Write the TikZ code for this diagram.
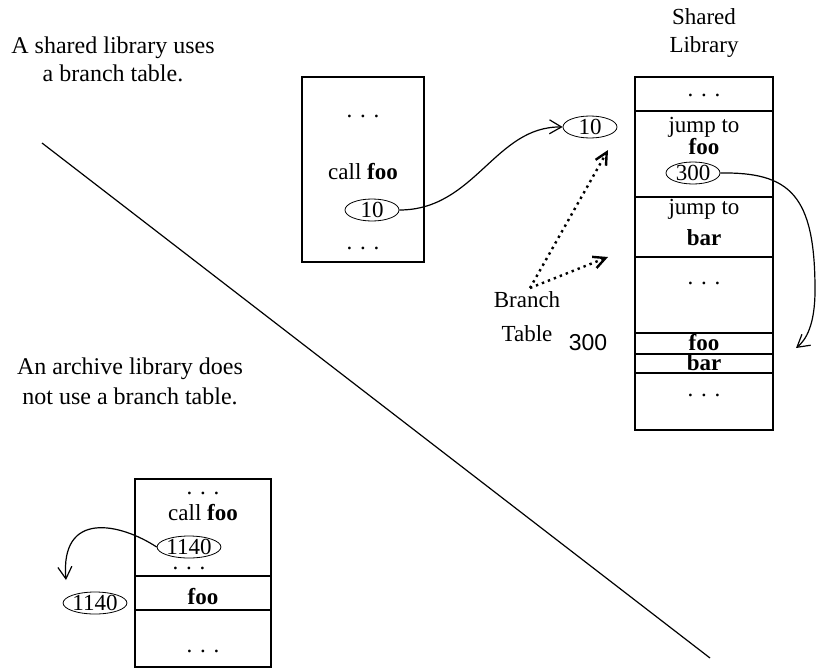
\documentclass[tikz,border=0pt]{standalone}
\usepackage{fontspec}
\setmainfont{Liberation Serif}
\newfontfamily\helv{Liberation Sans}
\usetikzlibrary{arrows.meta, shapes.geometric}

\tikzset{
    val/.style={draw, ellipse, minimum width=27pt, minimum height=11pt, inner sep=0pt},
    arr/.style={-{Straight Barb[length=6pt,width=7pt]}, semithick},
    dotarr/.style={-{Straight Barb[length=6pt,width=6pt]}, line width=1.2pt, dotted}
}

\begin{document}
\begin{tikzpicture}[x=0.5pt, y=-0.5pt, font=\fontsize{11.5}{14}\selectfont]
    \useasboundingbox (0,0) rectangle (817,669);

    % captions
    \node[align=center, font=\fontsize{12}{14}\selectfont] (capshared) at (113,59) {A shared library uses\\a branch table.};
    \node[align=center, font=\fontsize{12}{15}\selectfont] (caparch) at (130,381) {An archive library does\\not use a branch table.};
    \draw[semithick] (42,143) -- (710,658);

    % program calling foo
    \draw[semithick] (302,77) rectangle (424,262);
    \node (pdots1) at (363,116) {. . .};
    \node (pcall) at (363,172) {call \textbf{foo}};
    \node[val] (pten) at (372,210) {10};
    \node (pdots2) at (363,248) {. . .};

    % branch table entry
    \node[val] (bten) at (590,127) {10};
    \draw[arr] (pten.east) .. controls (475,210) and (495,126) .. (bten.west);

    % shared library
    \node[align=center] (shtitle) at (704,33) {Shared\\Library};
    \draw[semithick] (635,77) rectangle (773,430);
    \foreach \y in {111,197,257,333,354,373}
        \draw[semithick] (635,\y) -- (773,\y);
    \node (sdots1) at (704,95) {. . .};
    \node (sjump1) at (704,127) {jump to};
    \node (sfoo1) at (704,147) {\textbf{foo}};
    \node[val] (sthree) at (693,173) {300};
    \node (sjump2) at (704,209) {jump to};
    \node (sbar1) at (704,238) {\textbf{bar}};
    \node (sdots2) at (704,283) {. . .};
    \node (sfoo2) at (704,343) {\textbf{foo}};
    \node (sbar2) at (704,363) {\textbf{bar}};
    \node (sdots3) at (704,395) {. . .};
    \coordinate (fooin) at (796,348);
    \draw[arr] (sthree.east) .. controls (790,172) and (815,195) .. (815,290)
        .. controls (815,325) and (806,340) .. (fooin);

    % branch table label
    \node[align=center] (brtab) at (527,317) {Branch\\[3pt]Table};
    \node[font=\helv\fontsize{11.5}{14}\selectfont] (addr) at (588,343) {300};
    \coordinate (bt) at (530,288);
    \coordinate (tipa) at (608,150);
    \coordinate (tipb) at (608,257);
    \draw[dotarr] (bt) -- (tipa);
    \draw[dotarr] (bt) -- (tipb);

    % archive library
    \draw[semithick] (135,479) -- (135,667) -- (271,667) -- (271,479) -- cycle;
    \draw[semithick] (135,576) -- (271,576);
    \draw[semithick] (135,610) -- (271,610);
    \node (adots1) at (203,493) {. . .};
    \node (acall) at (203,513) {call \textbf{foo}};
    \node[inner sep=0pt] (adots2) at (189,568) {. . .};
    \node[val, fill=white] (aaddr) at (189,547) {1140};
    \node (afoo) at (203,597) {\textbf{foo}};
    \node (adots3) at (203,651) {. . .};
    \node[val] (aret) at (95,603) {1140};
    \coordinate (retin) at (66,580);
    \draw[arr] (aaddr.west) .. controls (120,523) and (60,510) .. (retin);
\end{tikzpicture}
\end{document}
